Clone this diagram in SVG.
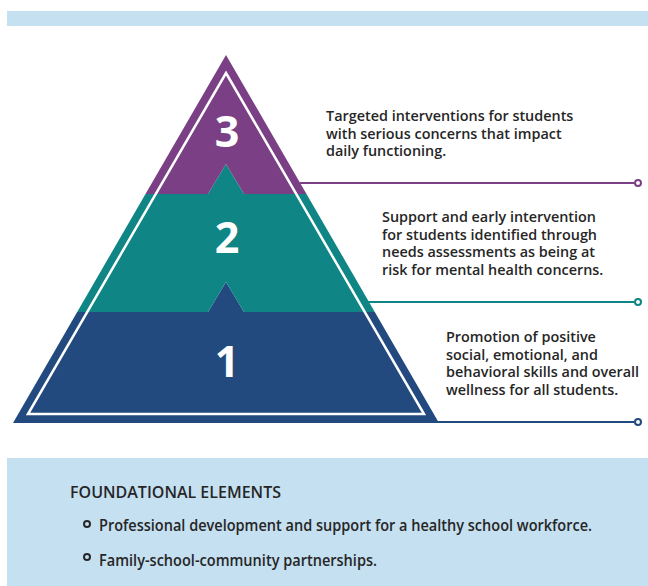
<svg xmlns="http://www.w3.org/2000/svg" width="648" height="586" viewBox="0 0 648 586">
<style>
.desc{font-family:"Open Sans","Liberation Sans",sans-serif;font-weight:600;font-size:14.4px;fill:#262626}
.num{font-family:"Open Sans","Liberation Sans",sans-serif;font-weight:700;font-size:43px;fill:#ffffff;text-anchor:middle}
.found{font-family:"Open Sans","Liberation Sans",sans-serif;font-weight:600;fill:#262626}
.bul{fill:none;stroke:#262626;stroke-width:2}
.dotc{fill:#ffffff;stroke-width:2}
</style>
<rect x="7" y="11" width="641" height="15" fill="#c5e0f1"/>
<g id="tier1">
<polygon points="13,423 439,423 374.8,312 244,312 226,282 208,312 77.2,312" fill="#234a7e"/>
</g>
<g id="tier2">
<polygon points="77.2,312 208,312 226,282 244,312 374.8,312 306.5,194 244,194 226,164 208,194 145.5,194" fill="#0f8585"/>
</g>
<g id="tier3">
<polygon points="145.5,194 208,194 226,164 244,194 306.5,194 226,55" fill="#7b3f85"/>
</g>
<polygon points="226,73 424,414 28,414" fill="none" stroke="#ffffff" stroke-width="2.5"/>
<text class="num" x="227" y="147">3</text>
<text class="num" x="227" y="253">2</text>
<text class="num" x="227" y="377">1</text>
<g id="connectors">
<line x1="300" y1="183" x2="634.5" y2="183" stroke="#7b3f85" stroke-width="2"/>
<circle class="dotc" cx="638" cy="183" r="3" stroke="#7b3f85"/>
<line x1="368" y1="302" x2="634.5" y2="302" stroke="#0f8585" stroke-width="2"/>
<circle class="dotc" cx="638" cy="302" r="3" stroke="#0f8585"/>
<line x1="437" y1="422" x2="634.5" y2="422" stroke="#234a7e" stroke-width="2"/>
<circle class="dotc" cx="638" cy="422" r="3" stroke="#234a7e"/>
</g>
<g id="label3">
<text class="desc" x="326" y="121">Targeted interventions for students</text>
<text class="desc" x="326" y="138.5">with serious concerns that impact</text>
<text class="desc" x="326" y="156">daily functioning.</text>
</g>
<g id="label2">
<text class="desc" x="382" y="222">Support and early intervention</text>
<text class="desc" x="382" y="239.5">for students identified through</text>
<text class="desc" x="382" y="257">needs assessments as being at</text>
<text class="desc" x="382" y="274.5">risk for mental health concerns.</text>
</g>
<g id="label1">
<text class="desc" x="446" y="342">Promotion of positive</text>
<text class="desc" x="446" y="359.5">social, emotional, and</text>
<text class="desc" x="446" y="377">behavioral skills and overall</text>
<text class="desc" x="446" y="394.5">wellness for all students.</text>
</g>
<g id="foundation">
<rect x="7" y="458" width="641" height="128" fill="#c5e0f1"/>
<text class="found" x="70" y="498" font-size="15.5" textLength="211" lengthAdjust="spacingAndGlyphs">FOUNDATIONAL ELEMENTS</text>
<circle class="bul" cx="87" cy="524" r="3"/>
<text class="found" x="99" y="531" font-size="16" textLength="493" lengthAdjust="spacingAndGlyphs">Professional development and support for a healthy school workforce.</text>
<circle class="bul" cx="87" cy="557" r="3"/>
<text class="found" x="99" y="566" font-size="16" textLength="278" lengthAdjust="spacingAndGlyphs">Family-school-community partnerships.</text>
</g>
</svg>
